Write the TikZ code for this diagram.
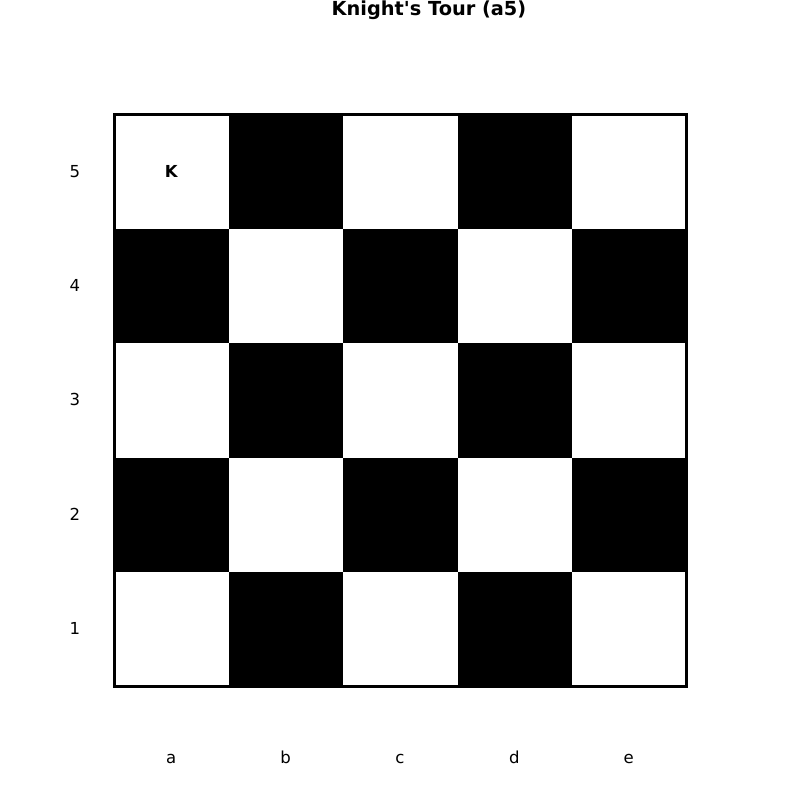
\documentclass[tikz,border=0pt]{standalone}
\usepackage{fontspec}
\setmainfont[Ligatures=NoCommon]{DejaVu Sans}
\usepackage{tikz}
\usetikzlibrary{positioning}

\tikzset{
  darksq/.style={fill=black,draw=none},
  coordlabel/.style={font=\fontsize{4.7}{5.5}\selectfont,inner sep=0pt,anchor=base},
}

\begin{document}
\begin{tikzpicture}[x=0.01cm,y=-0.01cm]
      \useasboundingbox (0,0) rectangle (800,800);
      % Dark squares of the 5x5 board
      \foreach \c in {0,...,4}{
        \foreach \r in {0,...,4}{
          \pgfmathtruncatemacro{\sqparity}{mod(\c+\r,2)}
          \ifnum\sqparity=1
            \fill[darksq] (114.4+114.4*\c,114.4+114.4*\r) rectangle ++(114.4,114.4);
          \fi
        }
      }
      % Board border
      \draw[line width=0.65pt] (114.4,114.4) rectangle (686.4,686.4);
      % Title
      \node[font=\bfseries\fontsize{5.5}{6.5}\selectfont,inner sep=0pt,anchor=base] (title) at (429,15) {Knight\textquotesingle s Tour (a5)};
      % Knight on a5
      \node[font=\bfseries\fontsize{4.7}{5.5}\selectfont,inner sep=0pt,anchor=base] (knight) at (171.2,177) {K};
      % Rank labels
      \foreach \r/\n in {0/5,1/4,2/3,3/2,4/1}
        \node[coordlabel] (rank\n) at (75,177+114.4*\r) {\n};
      % File labels
      \foreach \c/\f in {0/a,1/b,2/c,3/d,4/e}
        \node[coordlabel] (file\f) at (171.2+114.4*\c,763) {\f};
    \end{tikzpicture}
\end{document}
